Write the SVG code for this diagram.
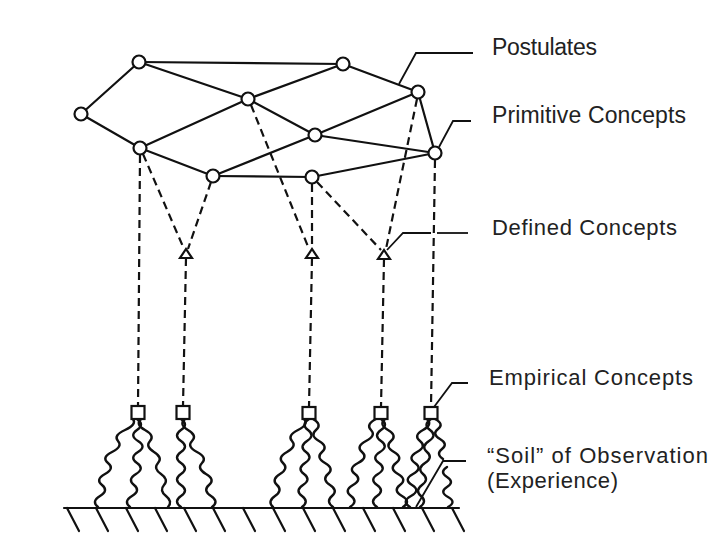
<svg xmlns="http://www.w3.org/2000/svg" width="721" height="541" viewBox="0 0 721 541">
<style>
.bg{fill:#ffffff}
.solid{stroke:#111;stroke-width:2.2;fill:none;stroke-linecap:round}
.dash{stroke:#111;stroke-width:2.2;fill:none;stroke-dasharray:8 5}
.lead{stroke:#111;stroke-width:1.8;fill:none}
.wave{stroke:#111;stroke-width:2.4;fill:none;stroke-linecap:round}
.node{fill:#fff;stroke:#111;stroke-width:2.2}
.lbl{font-family:"Liberation Sans",Arial,sans-serif;fill:#222}
</style>
<rect class="bg" x="0" y="0" width="721" height="541"/>

<g id="connectors">
  <!-- dashed links -->
  <line class="dash" x1="140" y1="155" x2="138" y2="406"/>
  <line class="dash" x1="143" y1="154" x2="184" y2="249"/>
  <line class="dash" x1="211" y1="182" x2="188" y2="249"/>
  <line class="dash" x1="186" y1="258" x2="183" y2="406"/>
  <line class="dash" x1="251" y1="105" x2="309" y2="249"/>
  <line class="dash" x1="312" y1="184" x2="312" y2="249"/>
  <line class="dash" x1="312" y1="258" x2="309" y2="407"/>
  <line class="dash" x1="317" y1="182" x2="381" y2="250"/>
  <line class="dash" x1="417" y1="99" x2="386" y2="249"/>
  <line class="dash" x1="384" y1="259" x2="381" y2="407"/>
  <line class="dash" x1="435" y1="160" x2="431" y2="407"/>
  <!-- solid network edges -->
  <line class="solid" x1="139" y1="62" x2="343" y2="64"/>
  <line class="solid" x1="139" y1="62" x2="81" y2="114"/>
  <line class="solid" x1="139" y1="62" x2="248" y2="99"/>
  <line class="solid" x1="343" y1="64" x2="248" y2="99"/>
  <line class="solid" x1="343" y1="64" x2="418" y2="92"/>
  <line class="solid" x1="81" y1="114" x2="140" y2="148"/>
  <line class="solid" x1="248" y1="99" x2="140" y2="148"/>
  <line class="solid" x1="248" y1="99" x2="315" y2="135"/>
  <line class="solid" x1="418" y1="92" x2="315" y2="135"/>
  <line class="solid" x1="418" y1="92" x2="435" y2="153"/>
  <line class="solid" x1="140" y1="148" x2="213" y2="176"/>
  <line class="solid" x1="315" y1="135" x2="213" y2="176"/>
  <line class="solid" x1="315" y1="135" x2="435" y2="153"/>
  <line class="solid" x1="213" y1="176" x2="312" y2="177"/>
  <line class="solid" x1="312" y1="177" x2="435" y2="153"/>
  <!-- leaders -->
  <polyline class="lead" points="399,84 416,53 473,53"/>
  <polyline class="lead" points="439,147 453,121 471,121"/>
  <polyline class="lead" points="387,250 403,233 431,233"/>
  <line class="lead" x1="437" y1="233" x2="468" y2="233"/>
  <polyline class="lead" points="434,407 452,383 468,383"/>
  <polyline class="lead" points="416,507 443,461 466,461"/>
  <!-- observation waves -->
  <path class="wave" d="M133,419 q4,5.5 -8,11 t-7,11 t-6,11 t-4,11 t-3,11 t-3,11 t-2,11 t-2,11"/>
  <path class="wave" d="M137,419 q8,5.5 0,11 t1,11 t0,11 t-1,11 t-1,11 t-2,11 t-2,11 t-2,11"/>
  <path class="wave" d="M141,419 q-6,5.5 4,11 t5,11 t4,11 t4,11 t3,11 t3,11 t2,11 t2,11"/>
  <path class="wave" d="M181,419 q8,5.5 0,11 t0,11 t0,11 t0,11 t0,11 t0,11 t0,11 t0,11"/>
  <path class="wave" d="M185,419 q-6.5,5.5 3,11 t4,11 t5,11 t5,11 t4,11 t3,11 t2,11 t1,11"/>
  <path class="wave" d="M304,419 q5,5.5 -6,11 t-6,11 t-5,11 t-4,11 t-3,11 t-3,11 t-2,11 t-2,11"/>
  <path class="wave" d="M309,419 q-8.5,5.5 -1,11 t-1,11 t-1,11 t-1,11 t-1,11 t-1,11 t-1,11 t0,11"/>
  <path class="wave" d="M313,419 q9.5,5.5 3,11 t3,11 t3,11 t3,11 t3,11 t2,11 t2,11 t1,11"/>
  <path class="wave" d="M376,419 q-10.5,5.5 -5,11 t-5,11 t-4,11 t-4,11 t-3,11 t-2,11 t-2,11 t-1,11"/>
  <path class="wave" d="M381,419 q8,5.5 0,11 t0,11 t-1,11 t-1,11 t-1,11 t-1,11 t0,11 t0,11"/>
  <path class="wave" d="M385,419 q-6.5,5.5 3,11 t3,11 t3,11 t2,11 t2,11 t2,11 t2,11 t1,11"/>
  <path class="wave" d="M427,419 q6,5.5 -4,11 t-3,11 t-3,11 t-2,11 t-2,11 t-1,11 t-1,11 t-1,11"/>
  <path class="wave" d="M431,419 q-8.5,5.5 -1,11 t-1,11 t-2,11 t-2,11 t-2,11 t-1,11 t-1,11 t-1,11"/>
  <path class="wave" d="M435,419 q9.5,5 3,10 t2,10 t2,10 t1,10"/>
  <path class="wave" d="M447,467 q-8,5 0,10 t0,10 t1,10 t0,10"/>
</g>

<g id="ground">
  <line class="solid" x1="64" y1="508" x2="459" y2="508"/>
  <path class="solid" d="M67,508 l12,23 M96,508 l12,23 M126,508 l12,23 M155,508 l12,23 M184,508 l12,23 M213,508 l12,23 M243,508 l12,23 M273,508 l12,23 M303,508 l12,23 M333,508 l12,23 M363,508 l12,23 M393,508 l12,23 M422,508 l12,23 M452,508 l12,23"/>
</g>

<g id="postulate-nodes">
  <circle id="n-a" class="node" cx="139" cy="62" r="6.5"/>
  <circle id="n-b" class="node" cx="343" cy="64" r="6.5"/>
  <circle id="n-c" class="node" cx="81" cy="114" r="6.5"/>
  <circle id="n-d" class="node" cx="248" cy="99" r="6.5"/>
  <circle id="n-e" class="node" cx="418" cy="92" r="6.5"/>
  <circle id="n-f" class="node" cx="140" cy="148" r="6.5"/>
  <circle id="n-g" class="node" cx="315" cy="135" r="6.5"/>
  <circle id="n-h" class="node" cx="435" cy="153" r="6.5"/>
  <circle id="n-i" class="node" cx="213" cy="176" r="6.5"/>
  <circle id="n-j" class="node" cx="312" cy="177" r="6.5"/>
</g>

<g id="defined-nodes">
  <polygon id="t1" class="node" points="180,258 192,258 186,249"/>
  <polygon id="t2" class="node" points="306,258 318,258 312,249"/>
  <polygon id="t3" class="node" points="378,259 390,259 384,250"/>
</g>

<g id="empirical-nodes">
  <rect id="s1" class="node" x="131.5" y="406" width="13" height="13"/>
  <rect id="s2" class="node" x="176.5" y="406" width="13" height="13"/>
  <rect id="s3" class="node" x="302.5" y="407" width="13" height="12"/>
  <rect id="s4" class="node" x="374.5" y="407" width="13" height="12"/>
  <rect id="s5" class="node" x="424.5" y="407" width="13" height="12"/>
</g>

<g id="labels">
  <text class="lbl" x="492" y="55" font-size="23" textLength="105" lengthAdjust="spacing">Postulates</text>
  <text class="lbl" x="492" y="123" font-size="23" textLength="194" lengthAdjust="spacing">Primitive Concepts</text>
  <text class="lbl" x="492" y="235" font-size="22" textLength="185" lengthAdjust="spacing">Defined Concepts</text>
  <text class="lbl" x="489" y="385" font-size="22" textLength="204" lengthAdjust="spacing">Empirical Concepts</text>
  <text class="lbl" x="487" y="463" font-size="22" textLength="221" lengthAdjust="spacing">“Soil” of Observation</text>
  <text class="lbl" x="487" y="488" font-size="22" textLength="131" lengthAdjust="spacing">(Experience)</text>
</g>
</svg>
